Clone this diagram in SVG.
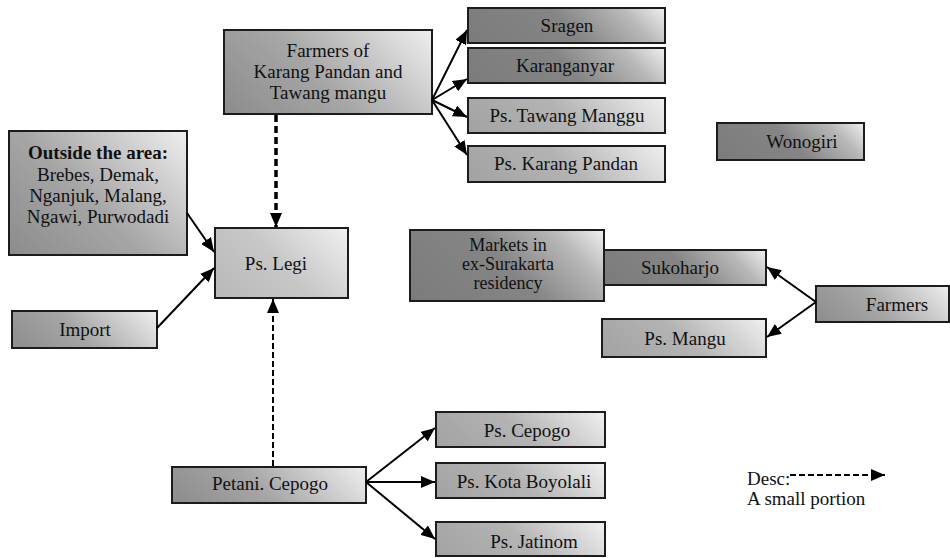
<svg xmlns="http://www.w3.org/2000/svg" width="950" height="558" viewBox="0 0 950 558" font-family="'Liberation Serif', 'DejaVu Serif', serif">
<style>
.box{stroke:#1c1c1c;stroke-width:2}
text{font-family:'Liberation Serif','Times New Roman',Times,'DejaVu Serif',serif;font-size:19px;fill:#111;text-anchor:middle}
.b{font-weight:bold}
.l{text-anchor:start}
.m{font-size:18px}
.c{fill:none;stroke:#000;stroke-width:2}
.d1{fill:none;stroke:#000;stroke-width:3.5;stroke-dasharray:7 4}
.d2{fill:none;stroke:#000;stroke-width:2;stroke-dasharray:6 3}
.d3{fill:none;stroke:#000;stroke-width:2;stroke-dasharray:6 3}
</style>
<defs>
<linearGradient id="gDark"><stop offset="0" stop-color="#7b7b7b"/><stop offset="0.5" stop-color="#858585"/><stop offset="0.8" stop-color="#b8b8b8"/><stop offset="1" stop-color="#f0f0f0"/></linearGradient>
<linearGradient id="gMed"><stop offset="0" stop-color="#8c8c8c"/><stop offset="0.45" stop-color="#a6a6a6"/><stop offset="1" stop-color="#efefef"/></linearGradient>
<linearGradient id="gPs"><stop offset="0" stop-color="#a2a2a2"/><stop offset="0.5" stop-color="#b4b4b4"/><stop offset="1" stop-color="#f0f0f0"/></linearGradient>
<linearGradient id="gLight"><stop offset="0" stop-color="#b8b8b8"/><stop offset="0.5" stop-color="#c8c8c8"/><stop offset="1" stop-color="#f0f0f0"/></linearGradient>
<linearGradient id="g1" href="#gMed" gradientUnits="userSpaceOnUse" x1="224" y1="114" x2="370" y2="-32"/>
<linearGradient id="g2" href="#gDark" gradientUnits="userSpaceOnUse" x1="468" y1="43" x2="584" y2="-73"/>
<linearGradient id="g3" href="#gDark" gradientUnits="userSpaceOnUse" x1="468" y1="83" x2="584" y2="-33"/>
<linearGradient id="g4" href="#gPs" gradientUnits="userSpaceOnUse" x1="468" y1="133" x2="584" y2="17"/>
<linearGradient id="g5" href="#gPs" gradientUnits="userSpaceOnUse" x1="468" y1="182" x2="584.5" y2="65.5"/>
<linearGradient id="g6" href="#gDark" gradientUnits="userSpaceOnUse" x1="717" y1="160" x2="809" y2="68"/>
<linearGradient id="g7" href="#gMed" gradientUnits="userSpaceOnUse" x1="9" y1="255" x2="160" y2="104"/>
<linearGradient id="g8" href="#gLight" gradientUnits="userSpaceOnUse" x1="215" y1="298" x2="316.5" y2="196.5"/>
<linearGradient id="g9" href="#gMed" gradientUnits="userSpaceOnUse" x1="12" y1="348" x2="103" y2="257"/>
<linearGradient id="g10" href="#gMed" gradientUnits="userSpaceOnUse" x1="172" y1="503" x2="287" y2="388"/>
<linearGradient id="g11" href="#gDark" gradientUnits="userSpaceOnUse" x1="410" y1="301" x2="542.5" y2="168.5"/>
<linearGradient id="g12" href="#gDark" gradientUnits="userSpaceOnUse" x1="603" y1="285" x2="702" y2="186"/>
<linearGradient id="g13" href="#gMed" gradientUnits="userSpaceOnUse" x1="816" y1="322" x2="900.5" y2="237.5"/>
<linearGradient id="g14" href="#gPs" gradientUnits="userSpaceOnUse" x1="602" y1="357" x2="703" y2="256"/>
<linearGradient id="g15" href="#gPs" gradientUnits="userSpaceOnUse" x1="436" y1="447" x2="538" y2="345"/>
<linearGradient id="g16" href="#gPs" gradientUnits="userSpaceOnUse" x1="436" y1="498" x2="538" y2="396"/>
<linearGradient id="g17" href="#gPs" gradientUnits="userSpaceOnUse" x1="436" y1="556" x2="537.5" y2="454.5"/>
<marker id="ah" markerUnits="userSpaceOnUse" viewBox="0 0 14 12" markerWidth="14" markerHeight="12" refX="14" refY="6" orient="auto"><path d="M0,0 L14,6 L0,12 z" fill="#000"/></marker>
</defs>
<rect width="950" height="558" fill="#fff"/>

<g id="farmers-kp"><rect class="box" x="224" y="30" width="208" height="84" fill="url(#g1)"/><text x="328" y="57">Farmers of</text><text x="328" y="78">Karang Pandan and</text><text x="328" y="99">Tawang mangu</text></g>
<g id="sragen"><rect class="box" x="468" y="8" width="197" height="35" fill="url(#g2)"/><text x="567" y="32">Sragen</text></g>
<g id="karanganyar"><rect class="box" x="468" y="48" width="197" height="35" fill="url(#g3)"/><text x="565" y="72">Karanganyar</text></g>
<g id="ps-tawang-manggu"><rect class="box" x="468" y="98" width="197" height="35" fill="url(#g4)"/><text x="567" y="122">Ps. Tawang Manggu</text></g>
<g id="ps-karang-pandan"><rect class="box" x="468" y="146" width="197" height="36" fill="url(#g5)"/><text x="566" y="170">Ps. Karang Pandan</text></g>
<g id="wonogiri"><rect class="box" x="717" y="123" width="147" height="37" fill="url(#g6)"/><text x="802" y="148">Wonogiri</text></g>
<g id="outside"><rect class="box" x="9" y="131" width="178" height="124" fill="url(#g7)"/><text class="b" x="98" y="159">Outside the area:</text><text x="98" y="181">Brebes, Demak,</text><text x="98" y="202">Nganjuk, Malang,</text><text x="98" y="223">Ngawi, Purwodadi</text></g>
<g id="ps-legi"><rect class="box" x="215" y="228" width="133" height="70" fill="url(#g8)"/><text x="276" y="270">Ps. Legi</text></g>
<g id="import"><rect class="box" x="12" y="311" width="145" height="37" fill="url(#g9)"/><text x="85" y="336">Import</text></g>
<g id="petani-cepogo"><rect class="box" x="172" y="467" width="194" height="36" fill="url(#g10)"/><text x="270" y="490">Petani. Cepogo</text></g>
<g id="sukoharjo"><rect class="box" x="603" y="250" width="163" height="35" fill="url(#g12)"/><text x="680" y="274">Sukoharjo</text></g>
<g id="markets"><rect class="box" x="410" y="230" width="194" height="71" fill="url(#g11)"/><text class="m" x="508" y="251">Markets in</text><text class="m" x="508" y="270">ex-Surakarta</text><text class="m" x="508" y="289">residency</text></g>
<g id="farmers"><rect class="box" x="816" y="286" width="133" height="36" fill="url(#g13)"/><text x="897" y="311">Farmers</text></g>
<g id="ps-mangu"><rect class="box" x="602" y="319" width="164" height="38" fill="url(#g14)"/><text x="685" y="345">Ps. Mangu</text></g>
<g id="ps-cepogo"><rect class="box" x="436" y="412" width="169" height="35" fill="url(#g15)"/><text x="527" y="437">Ps. Cepogo</text></g>
<g id="ps-kota-boyolali"><rect class="box" x="436" y="463" width="169" height="35" fill="url(#g16)"/><text x="524" y="488">Ps. Kota Boyolali</text></g>
<g id="ps-jatinom"><rect class="box" x="436" y="522" width="169" height="34" fill="url(#g17)"/><text x="534" y="548">Ps. Jatinom</text></g>

<g id="legend"><text class="l" x="747" y="485">Desc:</text><text class="l" x="747" y="505">A small portion</text><path class="d3" d="M790,475 L885,475" marker-end="url(#ah)"/></g>

<g id="connectors">
<path class="c" d="M432,100 L467,30" marker-end="url(#ah)"/>
<path class="c" d="M432,100 L467,79" marker-end="url(#ah)"/>
<path class="c" d="M432,100 L467,117" marker-end="url(#ah)"/>
<path class="c" d="M432,100 L467,155" marker-end="url(#ah)"/>
<path class="d1" d="M276,115 L276,227" marker-end="url(#ah)"/>
<path class="c" d="M187,213 L214,252" marker-end="url(#ah)"/>
<path class="c" d="M157,328 L214,268" marker-end="url(#ah)"/>
<path class="d2" d="M273,466 L273,299" marker-end="url(#ah)"/>
<path class="c" d="M816,302 L767,267" marker-end="url(#ah)"/>
<path class="c" d="M816,302 L767,337" marker-end="url(#ah)"/>
<path class="c" d="M366,482 L435,428" marker-end="url(#ah)"/>
<path class="c" d="M366,482 L435,482" marker-end="url(#ah)"/>
<path class="c" d="M366,482 L435,539" marker-end="url(#ah)"/>
</g>
</svg>
